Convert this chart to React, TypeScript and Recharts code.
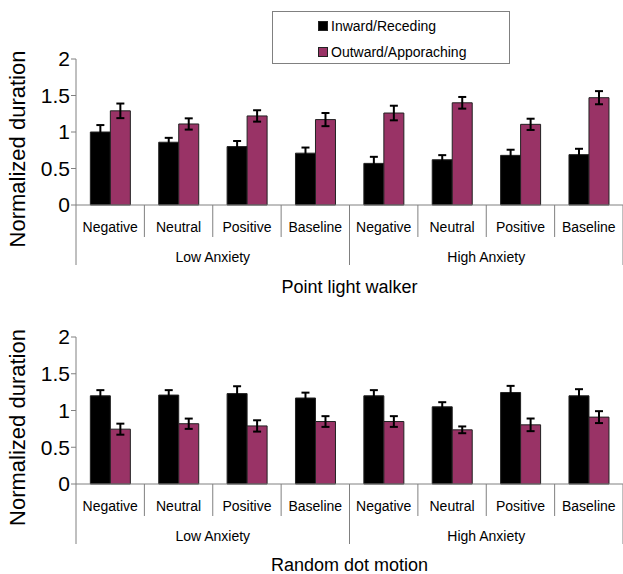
import { BarChart, Bar, XAxis, YAxis, ErrorBar, Legend } from "recharts";

const conditions = ["Negative", "Neutral", "Positive", "Baseline", "Negative", "Neutral", "Positive", "Baseline"];
const groups = ["Low Anxiety", "Low Anxiety", "Low Anxiety", "Low Anxiety", "High Anxiety", "High Anxiety", "High Anxiety", "High Anxiety"];
const yTicks = [0, 0.5, 1, 1.5, 2];

// point light walker
const plwInward = [1.0, 0.86, 0.8, 0.71, 0.57, 0.62, 0.68, 0.69];
const plwInwardErr = [0.095, 0.06, 0.077, 0.077, 0.09, 0.063, 0.077, 0.08];
const plwOutward = [1.29, 1.11, 1.22, 1.17, 1.26, 1.4, 1.105, 1.47];
const plwOutwardErr = [0.1, 0.077, 0.078, 0.09, 0.1, 0.08, 0.077, 0.09];

// random dot motion
const rdmInward = [1.2, 1.21, 1.23, 1.17, 1.2, 1.05, 1.245, 1.2];
const rdmInwardErr = [0.077, 0.067, 0.1, 0.073, 0.077, 0.063, 0.09, 0.09];
const rdmOutward = [0.746, 0.82, 0.79, 0.85, 0.85, 0.737, 0.805, 0.91];
const rdmOutwardErr = [0.075, 0.07, 0.077, 0.073, 0.073, 0.046, 0.086, 0.081];

const FONT = '"Liberation Sans", Arial, sans-serif';
const GRAY = "#808080";
const PLUM = "#993366";

function CategoryTick(props: any) {
  const { x, y, payload, index, width } = props;
  const half = payload.offset || width / conditions.length / 2;
  const g = groups[index];
  const first = index === 0 || groups[index - 1] !== g;
  const last = index === groups.length - 1 || groups[index + 1] !== g;
  const count = groups.filter((v) => v === g).length;
  return (
    <g>
      <text x={x} y={y + 22} dy="0.35em" textAnchor="middle" fontSize={14} fontFamily={FONT} fill="#000">
        {payload.value}
      </text>
      {!last && <line x1={x + half} y1={y} x2={x + half} y2={y + 32} stroke={GRAY} />}
      {first && <line x1={x - half} y1={y} x2={x - half} y2={y + 60} stroke={GRAY} />}
      {last && <line x1={x + half} y1={y} x2={x + half} y2={y + 60} stroke={GRAY} />}
      {first && (
        <text x={x - half + count * half} y={y + 52} dy="0.35em" textAnchor="middle" fontSize={14} fontFamily={FONT} fill="#000">
          {g}
        </text>
      )}
    </g>
  );
}

function LegendBox(props: any) {
  const items = props.payload || [];
  return (
    <div style={{ position: "relative", width: 238, height: 53, border: `1px solid ${GRAY}`, boxSizing: "border-box", background: "#fff" }}>
      {items.map((it: any, i: number) => (
        <div key={i} style={{ position: "absolute", left: 45, top: 6 + i * 26, height: 16, display: "flex", alignItems: "center", fontFamily: FONT, fontSize: 14, color: "#000", whiteSpace: "nowrap" }}>
          <span style={{ display: "inline-block", width: 8, height: 8, background: it.color, border: "1px solid #222", marginRight: 3 }} />
          {it.value}
        </div>
      ))}
    </div>
  );
}

function YLabel(props: any) {
  const vb = props.viewBox;
  const cy = vb.y + vb.height / 2 + 17;
  return (
    <text x={17} y={cy} transform={`rotate(-90, 17, ${cy})`} textAnchor="middle" dominantBaseline="central" fontSize={22} fontFamily={FONT} fill="#000">
      Normalized duration
    </text>
  );
}

type PanelProps = {
  title: string;
  inward: number[];
  inwardErr: number[];
  outward: number[];
  outwardErr: number[];
  height: number;
  top: number;
  axisHeight: number;
  titleOffset: number;
  legend?: boolean;
};

function Panel({ title, inward, inwardErr, outward, outwardErr, height, top, axisHeight, titleOffset, legend }: PanelProps) {
  const data = conditions.map((c, i) => ({
    cond: c,
    group: groups[i],
    inward: inward[i],
    inwardErr: inwardErr[i],
    outward: outward[i],
    outwardErr: outwardErr[i],
  }));
  return (
    <BarChart width={623} height={height} data={data} margin={{ top, right: 0, left: 0, bottom: 0 }} barCategoryGap="21%" barGap={0}>
      <XAxis
        dataKey="cond"
        height={axisHeight}
        interval={0}
        tickSize={0}
        tickMargin={0}
        tickLine={false}
        axisLine={{ stroke: GRAY }}
        tick={<CategoryTick />}
        label={{ value: title, position: "insideBottom", offset: titleOffset, fontSize: 18, fontFamily: FONT, fill: "#000" }}
      />
      <YAxis
        width={76}
        domain={[0, 2]}
        ticks={yTicks}
        interval={0}
        tickSize={5}
        tickMargin={1}
        axisLine={{ stroke: GRAY }}
        tickLine={{ stroke: GRAY }}
        tick={{ fontSize: 21, fontFamily: FONT, fill: "#000" }}
        label={<YLabel />}
      />
      {legend && (
        <Legend
          layout="horizontal"
          verticalAlign="middle"
          align="center"
          wrapperStyle={{ left: 272, top: 11, width: 238, height: 53 }}
          content={<LegendBox />}
        />
      )}
      <Bar dataKey="inward" name="Inward/Receding" fill="#000" stroke="#222" strokeWidth={1} isAnimationActive={false}>
        <ErrorBar dataKey="inwardErr" width={4} stroke="#000" strokeWidth={2} direction="y" isAnimationActive={false} />
      </Bar>
      <Bar dataKey="outward" name="Outward/Apporaching" fill={PLUM} stroke="#222" strokeWidth={1} isAnimationActive={false}>
        <ErrorBar dataKey="outwardErr" width={4} stroke="#000" strokeWidth={2} direction="y" isAnimationActive={false} />
      </Bar>
    </BarChart>
  );
}

export default function App() {
  return (
    <div style={{ position: "absolute", left: 0, top: 0, width: 623, height: 574, background: "#fff", overflow: "hidden" }}>
      <div style={{ position: "absolute", left: 0, top: 0 }}>
        <Panel
          title="Point light walker"
          inward={plwInward}
          inwardErr={plwInwardErr}
          outward={plwOutward}
          outwardErr={plwOutwardErr}
          height={300}
          top={59}
          axisHeight={95}
          titleOffset={7}
          legend
        />
      </div>
      <div style={{ position: "absolute", left: 0, top: 290 }}>
        <Panel
          title="Random dot motion"
          inward={rdmInward}
          inwardErr={rdmInwardErr}
          outward={rdmOutward}
          outwardErr={rdmOutwardErr}
          height={284}
          top={47}
          axisHeight={90}
          titleOffset={3}
        />
      </div>
    </div>
  );
}
